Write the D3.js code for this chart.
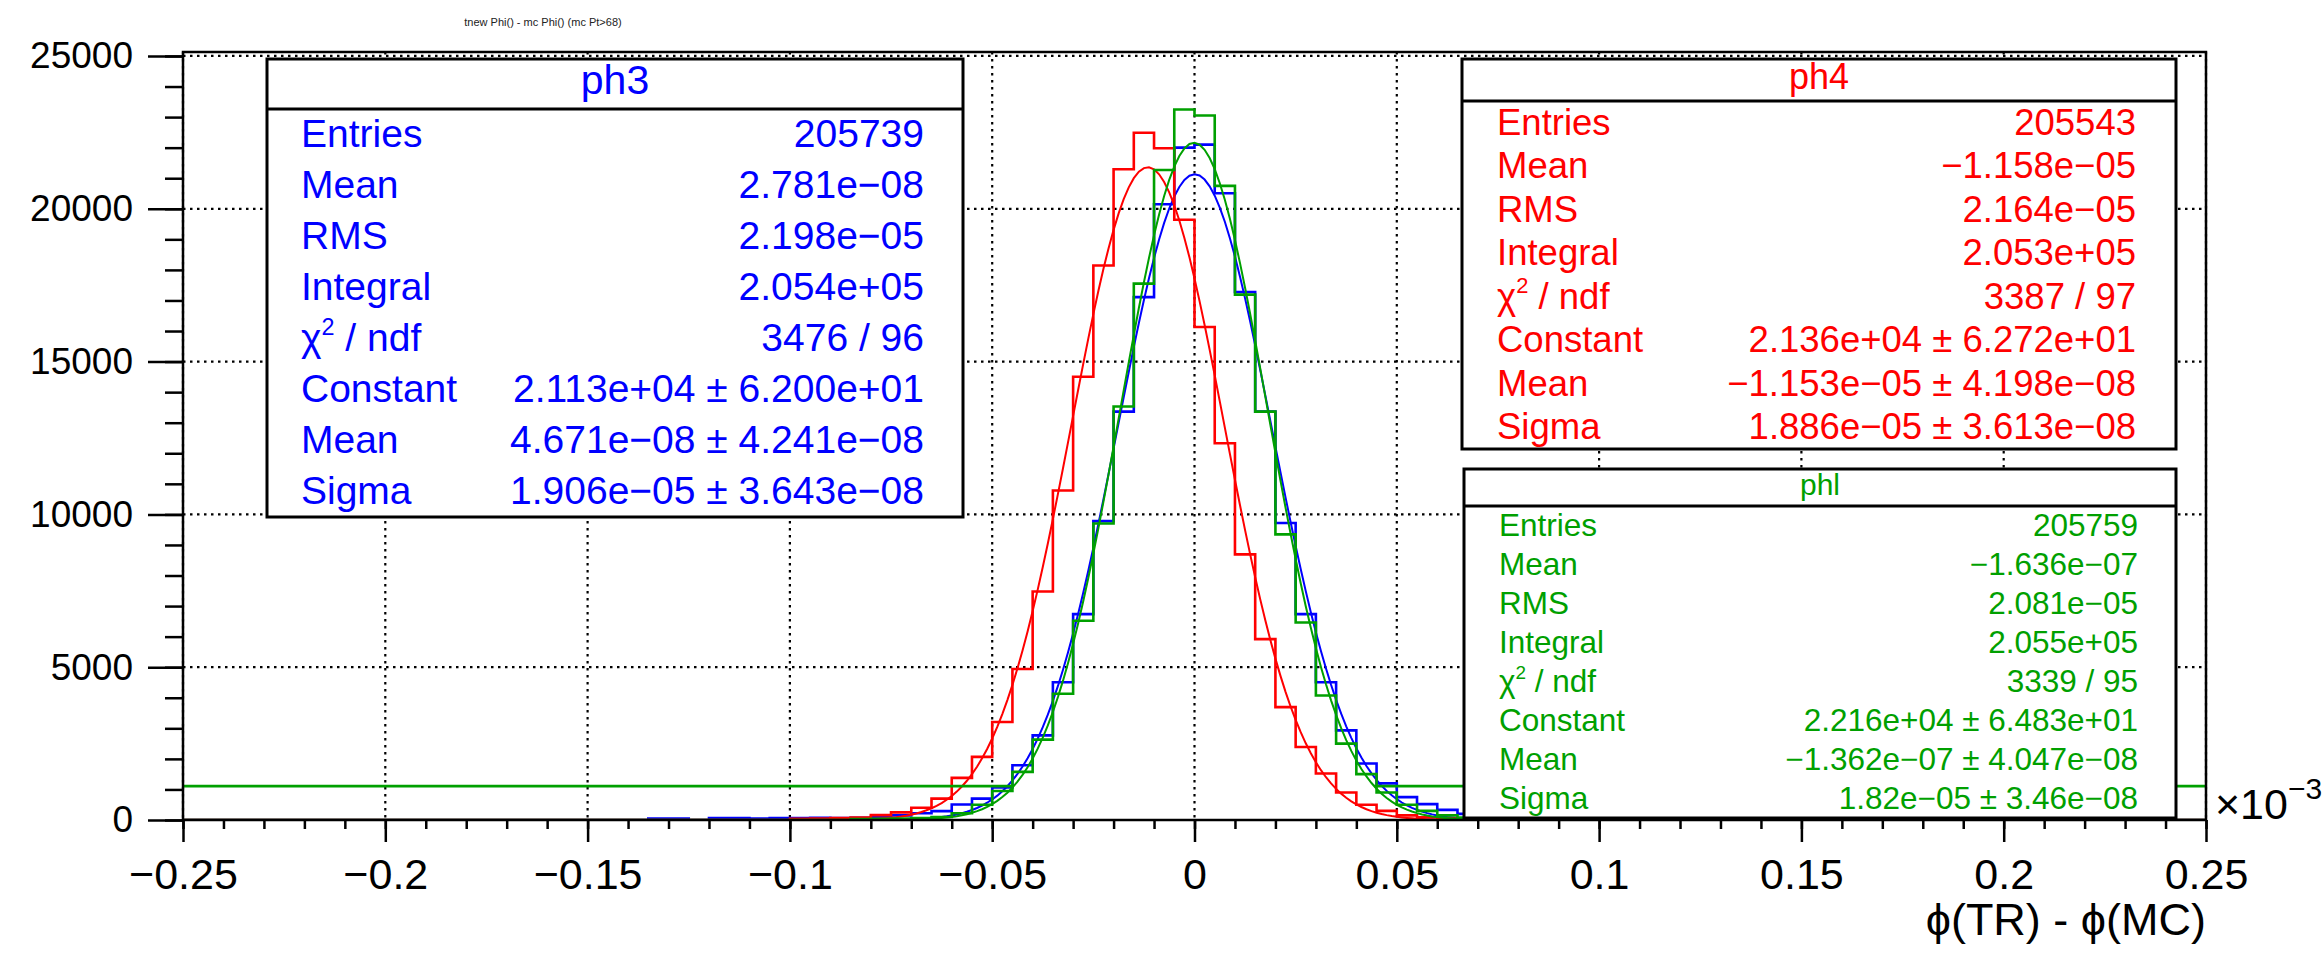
<!DOCTYPE html>
<html lang="en">
<head>
  <meta charset="UTF-8">
  <style>
    body {
      margin: 0;
      background: #fff;
      overflow: hidden;
    }

    svg {
      display: block;
      font-family: "Liberation Sans", Arial, Helvetica, sans-serif;
    }

    .grid line {
      stroke: #000;
      stroke-width: 2.2;
      stroke-dasharray: 2.5, 4.5;
    }

    .axis text {
      fill: #000;
    }

    .axis line {
      stroke: #000;
      stroke-width: 2.5;
    }
  </style>
  <script src="https://cdn.jsdelivr.net/npm/d3@7"></script>
</head>
<body>

<svg id="chart"></svg>

<script>
  // x axis is phi(TR) - phi(MC) in units of 1e-3 rad, 100 bins of 0.005
  const xLo = -0.25, xHi = 0.25, binWidth = 0.005;
  const yMax = 25130;

  const xTicks = [-0.25, -0.2, -0.15, -0.1, -0.05, 0, 0.05, 0.1, 0.15, 0.2, 0.25];
  const yTicks = [0, 5000, 10000, 15000, 20000, 25000];

  // bin contents, starting at the given low edge
  const ph3Start = -0.135;
  const ph3Counts = [50, 50, 0, 60, 60, 50, 60, 60, 70, 60, 70, 100, 150, 220, 290,
    505, 700, 1065, 1793, 2770, 4508, 6737, 9778, 13364, 17110, 20150, 22000, 22100,
    20510, 17275, 13364, 9720, 6737, 4508, 2933, 1850, 1200, 750, 520, 330, 200, 120,
    80, 60, 40, 30];

  const ph4Start = -0.100;
  const ph4Counts = [40, 50, 60, 80, 160, 250, 400, 700, 1380, 2064, 3205, 4943, 7475,
    10780, 14505, 18145, 21294, 22490, 21980, 19640, 16134, 12330, 8690, 5920, 3694,
    2390, 1520, 900, 500, 300, 150, 90, 50, 30];

  const phlStart = -0.085;
  const phlCounts = [30, 40, 50, 60, 100, 220, 500, 950, 1575, 2630, 4130, 6519, 9700,
    13530, 17550, 21270, 23250, 23050, 20750, 17190, 13364, 9345, 6463, 4075, 2500,
    1500, 900, 500, 300, 150, 80, 50, 30, 20];

  // gaussian fit parameters (constant, mean [rad], sigma [rad])
  const ph3Fit = [2.113e4, 4.671e-08, 1.906e-05];
  const ph4Fit = [2.136e4, -1.153e-05, 1.886e-05];
  const phlFit = [2.216e4, -1.362e-07, 1.82e-05];
  const phlLineLevel = 1108;

  const ph3Stats = [
    ["Entries", "205739"], ["Mean", "2.781e−08"], ["RMS", "2.198e−05"],
    ["Integral", "2.054e+05"], ["chi2", "3476 / 96"],
    ["Constant", "2.113e+04 ± 6.200e+01"], ["Mean", "4.671e−08 ± 4.241e−08"],
    ["Sigma", "1.906e−05 ± 3.643e−08"]
  ];
  const ph4Stats = [
    ["Entries", "205543"], ["Mean", "−1.158e−05"], ["RMS", "2.164e−05"],
    ["Integral", "2.053e+05"], ["chi2", "3387 / 97"],
    ["Constant", "2.136e+04 ± 6.272e+01"], ["Mean", "−1.153e−05 ± 4.198e−08"],
    ["Sigma", "1.886e−05 ± 3.613e−08"]
  ];
  const phlStats = [
    ["Entries", "205759"], ["Mean", "−1.636e−07"], ["RMS", "2.081e−05"],
    ["Integral", "2.055e+05"], ["chi2", "3339 / 95"],
    ["Constant", "2.216e+04 ± 6.483e+01"], ["Mean", "−1.362e−07 ± 4.047e−08"],
    ["Sigma", "1.82e−05 ± 3.46e−08"]
  ];

  const W = 2324, H = 955;
  const frame = { left: 183, right: 2206, top: 52, bottom: 820 };

  const svg = d3.select("#chart")
    .attr("width", W)
    .attr("height", H);

  const x = d3.scaleLinear().domain([xLo, xHi]).range([frame.left, frame.right]);
  const y = d3.scaleLinear().domain([0, yMax]).range([frame.bottom, frame.top]);

  svg.append("defs").append("clipPath").attr("id", "frameClip")
    .append("rect")
    .attr("x", frame.left).attr("y", frame.top)
    .attr("width", frame.right - frame.left)
    .attr("height", frame.bottom - frame.top);

  // title
  svg.append("text")
    .attr("x", 543).attr("y", 26)
    .attr("text-anchor", "middle")
    .attr("font-size", 11)
    .attr("fill", "#222")
    .text("tnew Phi() - mc Phi() (mc Pt>68)");

  // grid
  const grid = svg.append("g").attr("class", "grid");
  grid.selectAll(".gx").data(xTicks).join("line")
    .attr("x1", d => x(d)).attr("x2", d => x(d))
    .attr("y1", frame.top).attr("y2", frame.bottom);
  grid.selectAll(".gy").data(yTicks.filter(d => d > 0)).join("line")
    .attr("x1", frame.left).attr("x2", frame.right)
    .attr("y1", d => y(d)).attr("y2", d => y(d));

  // histograms
  function fullBins(start, counts) {
    const first = Math.round((start - xLo) / binWidth);
    const nBins = Math.round((xHi - xLo) / binWidth);
    return d3.range(nBins).map(i => {
      const k = i - first;
      return { x0: xLo + i * binWidth, v: (k >= 0 && k < counts.length) ? counts[k] : 0 };
    });
  }

  function histPath(bins) {
    const pts = [[xLo, 0]];
    bins.forEach(b => pts.push([b.x0, b.v]));
    pts.push([xHi, bins[bins.length - 1].v]);
    pts.push([xHi, 0]);
    return d3.line().x(d => x(d[0])).y(d => y(d[1])).curve(d3.curveStepAfter)(pts);
  }

  function gauss(p, u) {
    const m = p[1] * 1e3, s = p[2] * 1e3;
    return p[0] * Math.exp(-0.5 * ((u - m) / s) ** 2);
  }

  function fitPath(p) {
    const pts = d3.range(0, 401).map(i => xLo + (xHi - xLo) * i / 400);
    return d3.line().x(u => x(u)).y(u => y(gauss(p, u)))(pts);
  }

  const plot = svg.append("g").attr("clip-path", "url(#frameClip)");

  const series = [
    { start: ph3Start, counts: ph3Counts, fit: ph3Fit, color: "#0000ff" },
    { start: ph4Start, counts: ph4Counts, fit: ph4Fit, color: "#ff0000" },
    { start: phlStart, counts: phlCounts, fit: phlFit, color: "#00a000" }
  ];

  series.forEach(s => {
    plot.append("path")
      .attr("d", histPath(fullBins(s.start, s.counts)))
      .attr("fill", "none")
      .attr("stroke", s.color)
      .attr("stroke-width", 2.6);
    plot.append("path")
      .attr("d", fitPath(s.fit))
      .attr("fill", "none")
      .attr("stroke", s.color)
      .attr("stroke-width", 2);
  });

  // flat green level outside the peak
  const halfW = phlFit[2] * 1e3 * Math.sqrt(2 * Math.log(phlFit[0] / phlLineLevel));
  const mPhl = phlFit[1] * 1e3;
  [[xLo, mPhl - halfW], [mPhl + halfW, xHi]].forEach(seg => {
    plot.append("line")
      .attr("x1", x(seg[0])).attr("x2", x(seg[1]))
      .attr("y1", y(phlLineLevel)).attr("y2", y(phlLineLevel))
      .attr("stroke", "#00a000")
      .attr("stroke-width", 2.6);
  });

  // axes
  const fmt = d => d === 0 ? "0" : String(+d.toFixed(2)).replace("-", "−");
  const xMinor = d3.range(0, 51).map(i => +(xLo + i * 0.01).toFixed(3));
  const yMinor = d3.range(0, 26).map(i => i * 1000);

  const gx = svg.append("g").attr("class", "axis")
    .attr("transform", `translate(0,${frame.bottom})`);
  gx.call(d3.axisBottom(x).tickValues(xMinor).tickSize(9).tickFormat(""));
  gx.append("g")
    .call(d3.axisBottom(x).tickValues(xTicks).tickSize(22).tickPadding(16).tickFormat(fmt));
  gx.selectAll(".domain").remove();
  gx.selectAll("text").attr("font-size", 43).attr("font-family", "Liberation Sans, Arial, sans-serif");

  const gy = svg.append("g").attr("class", "axis")
    .attr("transform", `translate(${frame.left},0)`);
  gy.call(d3.axisLeft(y).tickValues(yMinor).tickSize(18).tickFormat(""));
  gy.append("g")
    .call(d3.axisLeft(y).tickValues(yTicks).tickSize(35).tickPadding(15).tickFormat(d3.format("d")));
  gy.selectAll(".domain").remove();
  gy.selectAll("text").attr("font-size", 37).attr("font-family", "Liberation Sans, Arial, sans-serif");

  // frame
  svg.append("rect")
    .attr("x", frame.left).attr("y", frame.top)
    .attr("width", frame.right - frame.left)
    .attr("height", frame.bottom - frame.top)
    .attr("fill", "none")
    .attr("stroke", "#000")
    .attr("stroke-width", 2.5);

  // exponent label
  const ex = svg.append("text")
    .attr("x", 2215).attr("y", 819)
    .attr("font-size", 43);
  ex.append("tspan").text("×10");
  ex.append("tspan").attr("font-size", 30).attr("dy", -20).text("−3");

  // axis title
  svg.append("text")
    .attr("x", frame.right).attr("y", 935)
    .attr("text-anchor", "end")
    .attr("font-size", 45)
    .text("ϕ(TR) - ϕ(MC)");

  // stat boxes
  function statBox(name, rows, color, box) {
    const g = svg.append("g");
    g.append("rect")
      .attr("x", box.x).attr("y", box.y)
      .attr("width", box.w).attr("height", box.h)
      .attr("fill", "#fff")
      .attr("stroke", "#000")
      .attr("stroke-width", 3);
    g.append("line")
      .attr("x1", box.x).attr("x2", box.x + box.w)
      .attr("y1", box.y + box.titleH).attr("y2", box.y + box.titleH)
      .attr("stroke", "#000")
      .attr("stroke-width", 3);
    g.append("text")
      .attr("x", box.x + box.w / 2)
      .attr("y", box.y + box.titleH / 2 + box.titleFont * 0.25)
      .attr("text-anchor", "middle")
      .attr("font-size", box.titleFont)
      .attr("fill", color)
      .text(name);

    const rowH = (box.h - box.titleH) / rows.length;
    rows.forEach((r, i) => {
      const by = box.y + box.titleH + rowH * (i + 0.5) + box.font * 0.33;
      const lab = g.append("text")
        .attr("x", box.x + box.padL).attr("y", by)
        .attr("font-size", box.font)
        .attr("fill", color);
      if (r[0] === "chi2") {
        lab.append("tspan").text("χ");
        lab.append("tspan").attr("font-size", box.font * 0.6).attr("dy", -box.font * 0.42).text("2");
        lab.append("tspan").attr("dy", box.font * 0.42).text(" / ndf");
      } else {
        lab.text(r[0]);
      }
      g.append("text")
        .attr("x", box.x + box.w - box.padR).attr("y", by)
        .attr("text-anchor", "end")
        .attr("font-size", box.font)
        .attr("fill", color)
        .text(r[1]);
    });
  }

  statBox("ph3", ph3Stats, "#0000ff",
    { x: 267, y: 59, w: 696, h: 458, titleH: 50, font: 39, titleFont: 41, padL: 34, padR: 39 });
  statBox("ph4", ph4Stats, "#ff0000",
    { x: 1462, y: 59, w: 714, h: 390, titleH: 42, font: 36.5, titleFont: 36, padL: 35, padR: 40 });
  statBox("phl", phlStats, "#00a000",
    { x: 1464, y: 469, w: 712, h: 349, titleH: 37, font: 31.5, titleFont: 30, padL: 35, padR: 38 });
</script>

</body>
</html>
